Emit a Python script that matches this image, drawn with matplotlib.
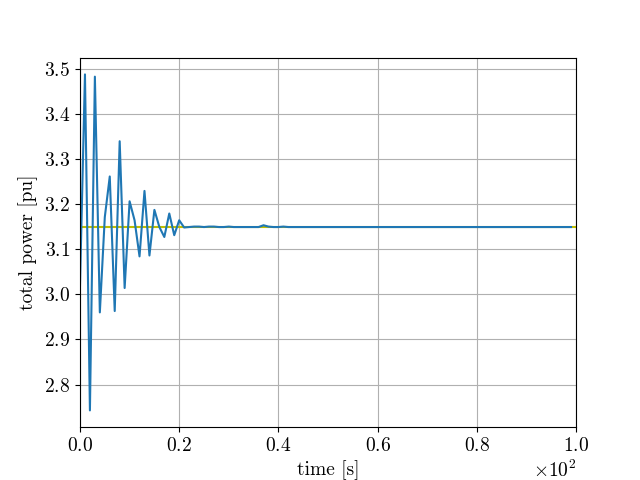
import numpy as np
import matplotlib
matplotlib.use('Agg')
import matplotlib.pyplot as plt

plt.rcParams['font.family'] = 'serif'
plt.rcParams['font.serif'] = ['cmr10']
plt.rcParams['mathtext.fontset'] = 'cm'
plt.rcParams['axes.formatter.use_mathtext'] = True
plt.rcParams['axes.unicode_minus'] = False
plt.rcParams['font.size'] = 14

# potencia total simulada, muestreo cada 1 s
time_s = np.arange(0, 100)
total_power = [
    3.020, 3.487, 2.743, 3.482, 2.960, 3.171, 3.261, 2.963, 3.339, 3.014,
    3.206, 3.164, 3.084, 3.229, 3.086, 3.187, 3.149, 3.127, 3.179, 3.131,
    3.164, 3.148, 3.149, 3.150, 3.150, 3.149, 3.150, 3.150, 3.149, 3.149,
    3.150, 3.149, 3.149, 3.149, 3.149, 3.149, 3.149, 3.153, 3.150, 3.149,
    3.149, 3.150, 3.149, 3.149, 3.149, 3.149, 3.149, 3.149, 3.149, 3.149,
    3.149, 3.149, 3.149, 3.149, 3.149, 3.149, 3.149, 3.149, 3.149, 3.149,
    3.149, 3.149, 3.149, 3.149, 3.149, 3.149, 3.149, 3.149, 3.149, 3.149,
    3.149, 3.149, 3.149, 3.149, 3.149, 3.149, 3.149, 3.149, 3.149, 3.149,
    3.149, 3.149, 3.149, 3.149, 3.149, 3.149, 3.149, 3.149, 3.149, 3.149,
    3.149, 3.149, 3.149, 3.149, 3.149, 3.149, 3.149, 3.149, 3.149, 3.149,
]

# referencia de potencia
ref_time = [0, 100]
ref_power = [3.15, 3.15]

fig, ax = plt.subplots(figsize=(6.4, 4.8), dpi=100)

ax.plot(ref_time, ref_power, color='y', linewidth=1.5)
ax.plot(time_s, total_power, color='tab:blue', linewidth=1.5)

ax.set_xlim(0, 100)
ax.set_xlabel('time [s]')
ax.set_ylabel('total power [pu]')
ax.ticklabel_format(axis='x', style='sci', scilimits=(0, 0))
ax.grid(True)

fig.savefig('out.png', dpi=100)
